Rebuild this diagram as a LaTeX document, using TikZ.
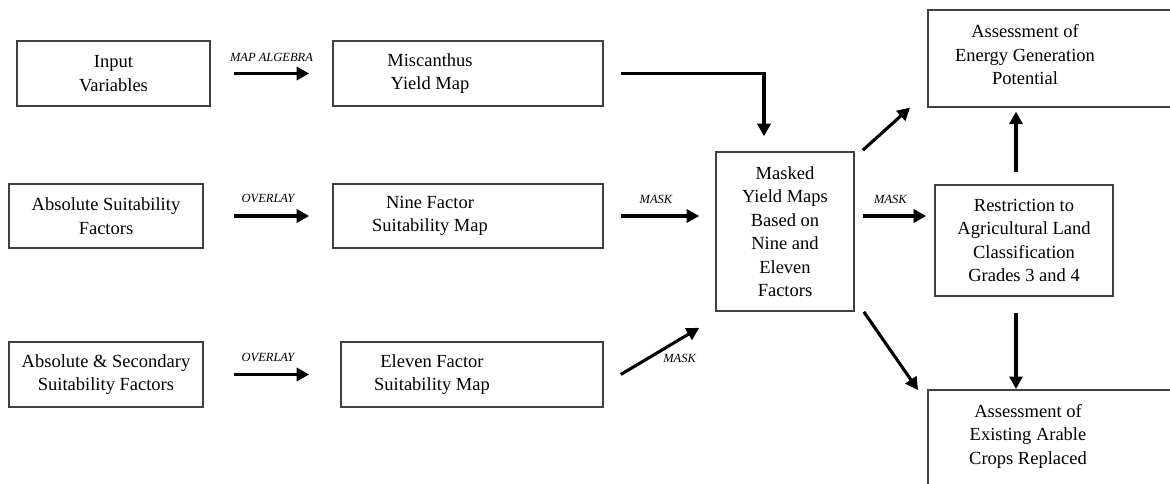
\documentclass[tikz,border=0pt]{standalone}
\usepackage{fontspec}
\setmainfont{Liberation Serif}
\usetikzlibrary{arrows.meta,calc}
\begin{document}
\begin{tikzpicture}[x=1pt,y=-1pt,
  box/.style={draw=black!75, line width=1.6pt, rectangle, inner sep=0pt},
  txt/.style={align=center, font=\fontsize{18.5}{23.5}\selectfont, inner sep=0pt},
  lbl/.style={font=\fontsize{12.5}{14}\selectfont\itshape, inner sep=0pt},
  arr/.style={line width=3.1pt, -{Triangle[length=12.5pt,width=13pt]}}]
\useasboundingbox (0,0) rectangle (1170,484);
\clip (0,0) rectangle (1170,484);

% left column
\node[box,txt,minimum width=193pt,minimum height=65pt] (inp) at (113.5,73.5) {Input\\Variables};
\node[box,txt,minimum width=194pt,minimum height=64pt] (abs) at (106,216) {Absolute Suitability\\Factors};
\node[box,txt,minimum width=194pt,minimum height=65pt] (abssec) at (106,374.5) {Absolute \& Secondary\\Suitability Factors};

% middle column
\node[box,minimum width=270pt,minimum height=65pt] (misc) at (468,73.5) {};
\node[txt] (misct) at (430,73.5) {Miscanthus\\Yield Map};
\node[box,minimum width=270pt,minimum height=64pt] (nine) at (468,216) {};
\node[txt] (ninet) at (430,216) {Nine Factor\\Suitability Map};
\node[box,minimum width=262pt,minimum height=65pt] (eleven) at (472,374.5) {};
\node[txt] (elevent) at (432,374.5) {Eleven Factor\\Suitability Map};

% centre
\node[box,txt,minimum width=138pt,minimum height=159pt] (masked) at (785,231.5) {Masked\\Yield Maps\\Based on\\Nine and\\Eleven\\Factors};

% right
\node[box,txt,minimum width=178pt,minimum height=111pt] (restr) at (1024,240.5) {Restriction to\\Agricultural Land\\Classification\\Grades 3 and 4};
\node[box,minimum width=260pt,minimum height=97pt,anchor=north west] (energy) at (927,9) {};
\node[txt] (energyt) at (1025,55) {Assessment of\\Energy Generation\\Potential};
\node[box,minimum width=260pt,minimum height=120pt,anchor=north west] (arable) at (927,389) {};
\node[txt] (arablet) at (1028,436) {Assessment of\\Existing Arable\\Crops Replaced};

% connectors
\draw[arr,shorten <=23pt,shorten >=23pt] (inp.east) -- node[lbl,yshift=16.5pt] {MAP ALGEBRA} (misc.west);
\draw[arr,shorten <=30pt,shorten >=23pt] (abs.east) -- node[lbl,yshift=18pt] {OVERLAY} (nine.west);
\draw[arr,shorten <=30pt,shorten >=31pt] (abssec.east) -- node[lbl,xshift=-4pt,yshift=17pt] {OVERLAY} (eleven.west);

\draw[arr] ([xshift=17pt]misc.east) -| ([shift={(-21pt,15pt)}]masked.north);
\draw[arr] ([xshift=17pt]nine.east) -- node[lbl,xshift=-4pt,yshift=17pt] {MASK} ([xshift=-16pt]nine.east -| masked.west);
\draw[arr] ([xshift=17pt]eleven.east) -- node[lbl,pos=0.75,yshift=-19pt] {MASK} ([shift={(-16pt,-16pt)}]masked.south west);

\draw[arr] ([shift={(8pt,15.5pt)}]masked.east) -- node[lbl,xshift=-4pt,yshift=17pt] {MASK} ([shift={(-8pt,15.5pt)}]masked.east -| restr.west);
\draw[arr] ([shift={(8pt,1pt)}]masked.north east) -- ([xshift=-17pt]energy.south west);
\draw[arr,shorten >=16pt] ([shift={(-8pt,12pt)}]restr.north) -- ([shift={(-8pt,12pt)}]restr.north |- energy.south);
\draw[arr,shorten >=16pt] ([shift={(-8pt,-16pt)}]restr.south) -- ([shift={(-8pt,-16pt)}]restr.south |- arable.north);
\draw[arr] ([xshift=9pt]masked.south east) -- ([shift={(-9pt,-1pt)}]arable.north west);
\end{tikzpicture}
\end{document}
